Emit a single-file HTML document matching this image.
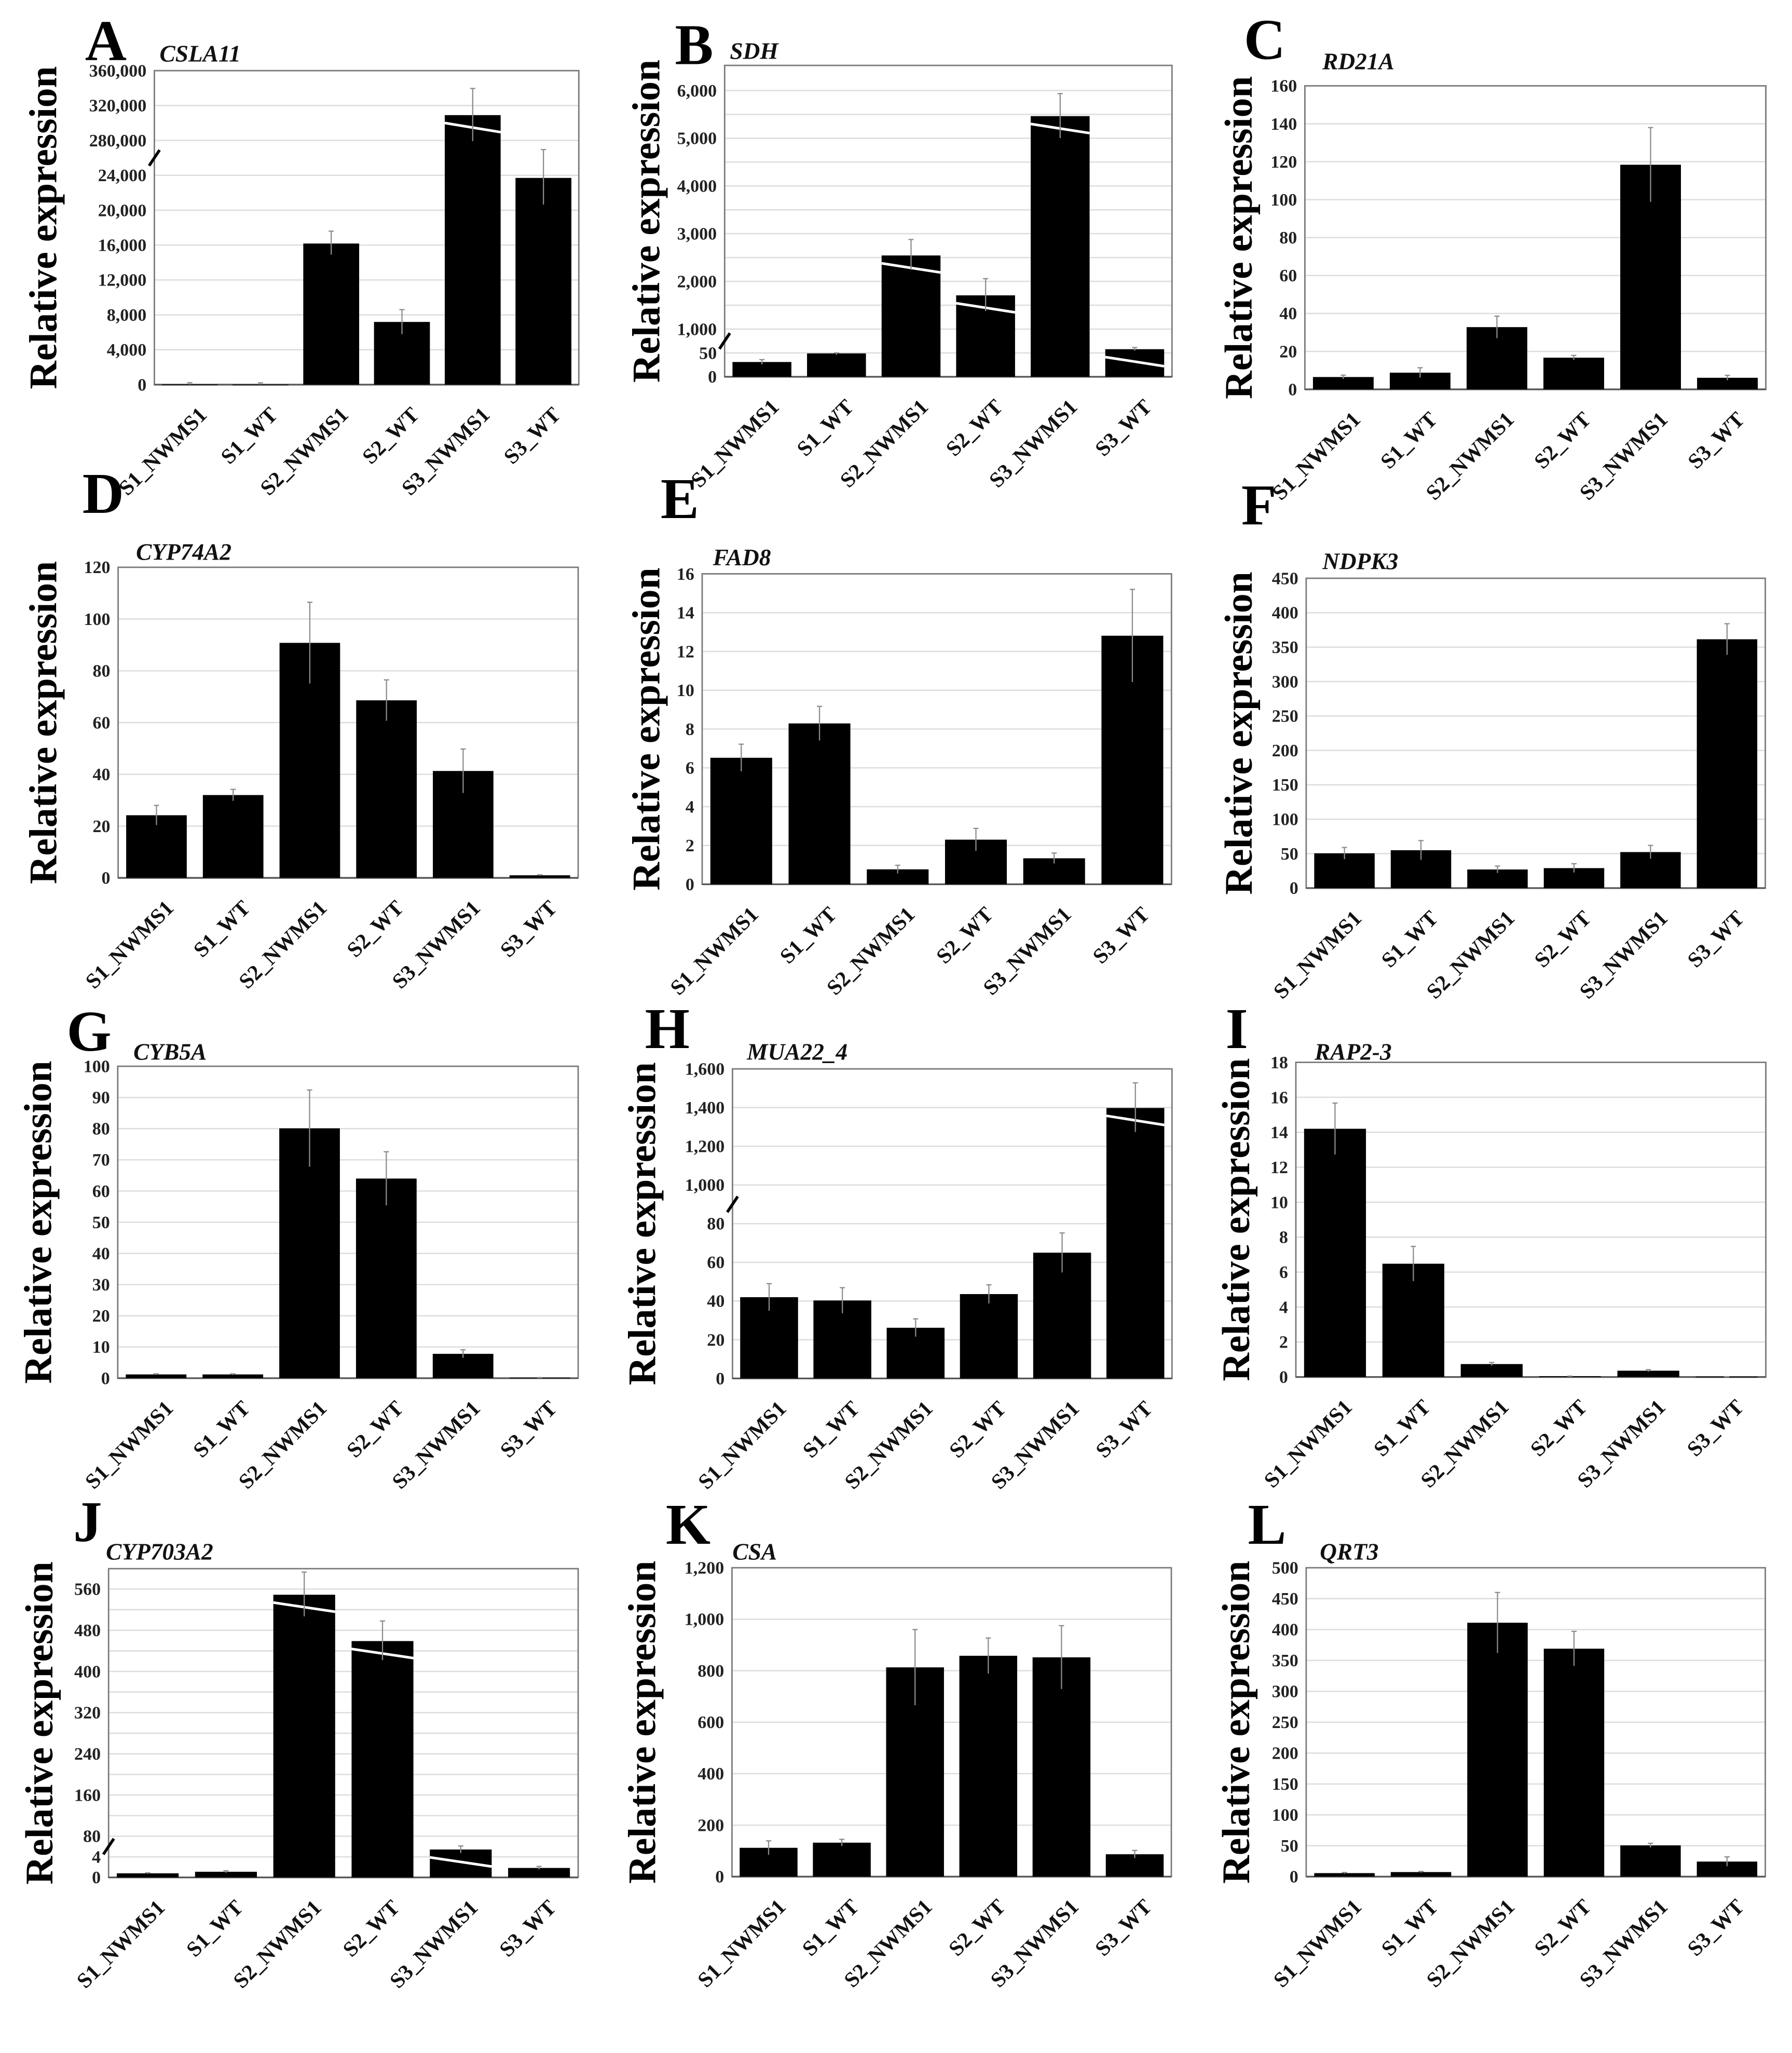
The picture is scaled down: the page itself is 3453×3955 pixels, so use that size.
<!DOCTYPE html>
<html>
<head>
<meta charset="utf-8">
<style>
  html, body { margin: 0; padding: 0; background: #ffffff; }
  svg { display: block; }
  text { font-family: "Liberation Serif", "Times New Roman", serif; }
</style>
</head>
<body>
<svg id="fig" xmlns="http://www.w3.org/2000/svg" width="3453" height="3955" viewBox="0 0 1370 1569.2">
  <rect x="0" y="0" width="1370" height="1569.2" fill="#ffffff"></rect>
</svg>
<script>
const categories = ["S1_NWMS1", "S1_WT", "S2_NWMS1", "S2_WT", "S3_NWMS1", "S3_WT"];

// Panel A - CSLA11
const aValues = [20, 10, 16180, 7190, 309000, 23700];
const aErrPlus = [200, 200, 1420, 1410, 30600, 189300];
const aErrMinus = [20, 10, 1280, 1400, 34000, 3050];
const aTicks = [0, 4000, 8000, 12000, 16000, 20000, 24000, 280000, 320000, 360000];
const aTickLabels = ["0", "4,000", "8,000", "12,000", "16,000", "20,000", "24,000", "280,000", "320,000", "360,000"];

// Panel B - SDH
const bValues = [31, 49, 2543, 1707, 5464, 199];
const bErrPlus = [5, 3, 335, 349, 472, 67];
const bErrMinus = [5, 3, 300, 330, 460, 60];
const bTicks = [0, 50, 1000, 1500, 2000, 2500, 3000, 3500, 4000, 4500, 5000, 5500, 6000];
const bTickLabels = ["0", "50", "1,000", "", "2,000", "", "3,000", "", "4,000", "", "5,000", "", "6,000"];

// Panel C - RD21A
const cValues = [6.5, 8.8, 32.8, 16.7, 118.4, 6.1];
const cErrPlus = [1, 2.6, 5.8, 1.2, 19.6, 1.3];
const cErrMinus = [1, 2.6, 5.8, 1.2, 19.6, 1.3];
const cTicks = [0, 20, 40, 60, 80, 100, 120, 140, 160];
const cTickLabels = ["0", "20", "40", "60", "80", "100", "120", "140", "160"];

// Panel D - CYP74A2
const dValues = [24.2, 32, 90.8, 68.6, 41.3, 1.0];
const dErrPlus = [3.8, 2.2, 15.7, 7.9, 8.5, 0.2];
const dErrMinus = [3.8, 2.2, 15.7, 7.9, 8.5, 0.2];
const dTicks = [0, 20, 40, 60, 80, 100, 120];
const dTickLabels = ["0", "20", "40", "60", "80", "100", "120"];

// Panel E - FAD8
const eValues = [6.52, 8.29, 0.77, 2.30, 1.34, 12.81];
const eErrPlus = [0.7, 0.88, 0.21, 0.58, 0.27, 2.39];
const eErrMinus = [0.7, 0.88, 0.21, 0.58, 0.27, 2.39];
const eTicks = [0, 2, 4, 6, 8, 10, 12, 14, 16];
const eTickLabels = ["0", "2", "4", "6", "8", "10", "12", "14", "16"];

// Panel F - NDPK3
const fValues = [50.5, 55, 27, 29, 52.3, 361.4];
const fErrPlus = [8.5, 14, 5, 6.4, 9.7, 22.6];
const fErrMinus = [8.5, 14, 5, 6.4, 9.7, 22.6];
const fTicks = [0, 50, 100, 150, 200, 250, 300, 350, 400, 450];
const fTickLabels = ["0", "50", "100", "150", "200", "250", "300", "350", "400", "450"];

// Panel G - CYB5A
const gValues = [1.2, 1.2, 80.1, 64, 7.8, 0.2];
const gErrPlus = [0.2, 0.2, 12.3, 8.6, 1.3, 0];
const gErrMinus = [0.2, 0.2, 12.3, 8.6, 1.3, 0];
const gTicks = [0, 10, 20, 30, 40, 50, 60, 70, 80, 90, 100];
const gTickLabels = ["0", "10", "20", "30", "40", "50", "60", "70", "80", "90", "100"];

// Panel H - MUA22_4
const hValues = [42, 40.3, 26.2, 43.6, 65, 1398];
const hErrPlus = [7, 6.6, 4.6, 4.8, 10.2, 130];
const hErrMinus = [7, 6.6, 4.6, 4.8, 10.2, 124];
const hTicks = [0, 20, 40, 60, 80, 1000, 1200, 1400, 1600];
const hTickLabels = ["0", "20", "40", "60", "80", "1,000", "1,200", "1,400", "1,600"];

// Panel I - RAP2-3
const iValues = [14.2, 6.48, 0.74, 0.05, 0.36, 0.02];
const iErrPlus = [1.47, 0.99, 0.09, 0, 0.06, 0];
const iErrMinus = [1.47, 0.99, 0.09, 0, 0.06, 0];
const iTicks = [0, 2, 4, 6, 8, 10, 12, 14, 16, 18];
const iTickLabels = ["0", "2", "4", "6", "8", "10", "12", "14", "16", "18"];

// Panel J - CYP703A2
const jValues = [0.8, 1.1, 549, 459, 31, 1.84];
const jErrPlus = [0.1, 0.2, 44, 39, 13, 0.3];
const jErrMinus = [0.1, 0.2, 42, 37, 13, 0.3];
const jTicks = [0, 4, 80, 120, 160, 200, 240, 280, 320, 360, 400, 440, 480, 520, 560];
const jTickLabels = ["0", "4", "80", "", "160", "", "240", "", "320", "", "400", "", "480", "", "560"];

// Panel K - CSA
const kValues = [112, 132, 813, 858, 852, 87];
const kErrPlus = [27, 13, 147, 69, 123, 15];
const kErrMinus = [27, 13, 147, 69, 123, 15];
const kTicks = [0, 200, 400, 600, 800, 1000, 1200];
const kTickLabels = ["0", "200", "400", "600", "800", "1,000", "1,200"];

// Panel L - QRT3
const lValues = [5.7, 7.4, 411, 369, 50.6, 24.4];
const lErrPlus = [1, 1, 49, 28, 3.4, 7.6];
const lErrMinus = [1, 1, 49, 28, 3.4, 7.6];
const lTicks = [0, 50, 100, 150, 200, 250, 300, 350, 400, 450, 500];
const lTickLabels = ["0", "50", "100", "150", "200", "250", "300", "350", "400", "450", "500"];

const panels = [
  {letter:"A", gene:"CSLA11", L:118, R:442.5, T:54, B:294, topTick:54, titleX:32, lx:65, ly:46, gx:122, gy:47, brk:6,
   values:aValues, errPlus:aErrPlus, errMinus:aErrMinus, ticks:aTicks, labels:aTickLabels},
  {letter:"B", gene:"SDH", L:554, R:896, T:50, B:288, topTick:69.2, titleX:493, lx:516, ly:49, gx:558, gy:45, brk:1,
   values:bValues, errPlus:bErrPlus, errMinus:bErrMinus, ticks:bTicks, labels:bTickLabels},
  {letter:"C", gene:"RD21A", L:997.6, R:1350, T:65.6, B:297.6, topTick:65.6, titleX:946, lx:951, ly:45, gx:1011, gy:53, brk:-1,
   values:cValues, errPlus:cErrPlus, errMinus:cErrMinus, ticks:cTicks, labels:cTickLabels},
  {letter:"D", gene:"CYP74A2", L:90.3, R:442, T:433.6, B:671, topTick:433.6, titleX:32, lx:63, ly:392, gx:104, gy:428, brk:-1,
   values:dValues, errPlus:dErrPlus, errMinus:dErrMinus, ticks:dTicks, labels:dTickLabels},
  {letter:"E", gene:"FAD8", L:536.8, R:895.6, T:438.6, B:675.9, topTick:438.6, titleX:493, lx:505, ly:396, gx:545, gy:432, brk:-1,
   values:eValues, errPlus:eErrPlus, errMinus:eErrMinus, ticks:eTicks, labels:eTickLabels},
  {letter:"F", gene:"NDPK3", L:998.6, R:1349.6, T:442, B:678.8, topTick:442, titleX:946, lx:949, ly:401, gx:1011, gy:435, brk:-1,
   values:fValues, errPlus:fErrPlus, errMinus:fErrMinus, ticks:fTicks, labels:fTickLabels},
  {letter:"G", gene:"CYB5A", L:90, R:442, T:815, B:1053.4, topTick:815, titleX:28, lx:51, ly:803, gx:102, gy:810, brk:-1,
   values:gValues, errPlus:gErrPlus, errMinus:gErrMinus, ticks:gTicks, labels:gTickLabels},
  {letter:"H", gene:"MUA22_4", L:560, R:896, T:817, B:1053.6, topTick:817, titleX:490, lx:493, ly:801, gx:571, gy:810, brk:4,
   values:hValues, errPlus:hErrPlus, errMinus:hErrMinus, ticks:hTicks, labels:hTickLabels},
  {letter:"I", gene:"RAP2-3", L:990.7, R:1350, T:812, B:1052.5, topTick:812, titleX:944, lx:937, ly:801, gx:1005, gy:810, brk:-1,
   values:iValues, errPlus:iErrPlus, errMinus:iErrMinus, ticks:iTicks, labels:iTickLabels},
  {letter:"J", gene:"CYP703A2", L:83, R:442, T:1199, B:1435, topTick:1214.6, titleX:29, lx:56, ly:1178, gx:81, gy:1192, brk:1,
   values:jValues, errPlus:jErrPlus, errMinus:jErrMinus, ticks:jTicks, labels:jTickLabels},
  {letter:"K", gene:"CSA", L:559.6, R:895.5, T:1198.3, B:1434.4, topTick:1198.3, titleX:490, lx:509, ly:1180, gx:560, gy:1192, brk:-1,
   values:kValues, errPlus:kErrPlus, errMinus:kErrMinus, ticks:kTicks, labels:kTickLabels},
  {letter:"L", gene:"QRT3", L:998.6, R:1349.6, T:1198.3, B:1434.4, topTick:1198.3, titleX:944, lx:954, ly:1180, gx:1009, gy:1192, brk:-1,
   values:lValues, errPlus:lErrPlus, errMinus:lErrMinus, ticks:lTicks, labels:lTickLabels}
];

const NS = "http://www.w3.org/2000/svg";
const svg = document.getElementById("fig");

function mk(tag, attrs, parent) {
  const e = document.createElementNS(NS, tag);
  for (const k in attrs) e.setAttribute(k, attrs[k]);
  (parent || svg).appendChild(e);
  return e;
}

function yScale(p, v) {
  const t = p.ticks;
  const n = t.length;
  const step = (p.B - p.topTick) / (n - 1);
  let idx;
  if (v <= t[0]) idx = 0;
  else if (v >= t[n - 1]) idx = (n - 1) + (v - t[n - 1]) / (t[n - 1] - t[n - 2]);
  else {
    let i = 0;
    while (i < n - 2 && v > t[i + 1]) i++;
    idx = i + (v - t[i]) / (t[i + 1] - t[i]);
  }
  return p.B - idx * step;
}
function xBand(p, i) {
  const slot = (p.R - p.L) / categories.length;
  return { center: p.L + slot * (i + 0.5), width: slot * 0.79 };
}

panels.forEach(function (p) {
  const g = mk("g", {});
  
  

  p.ticks.forEach(function (tv, ti) {
    if (ti === 0) return;
    const y = yScale(p, tv);
    const gl = mk("line", {x1: p.L, x2: p.R, y1: y, y2: y, stroke: "#dddddd", "stroke-width": 1}, g);
    
    
  });

  const frame = mk("rect", {x: p.L, y: p.T, width: p.R - p.L, height: p.B - p.T, fill: "none", stroke: "#7a7a7a", "stroke-width": 1.1}, g);
  
  
  const xaxis = mk("line", {x1: p.L, x2: p.R, y1: p.B, y2: p.B, stroke: "#555555", "stroke-width": 1.3}, g);
  
  

  p.ticks.forEach(function (tv, ti) {
    const lab = p.labels[ti];
    if (!lab) return;
    const y = yScale(p, tv);
    const tt = mk("text", {x: p.L - 6, y: y + 4.5, "text-anchor": "end", "font-size": 13.5, "font-weight": "bold", fill: "#222"}, g);
    tt.textContent = lab;
    
    
  });

  if (p.brk >= 0) {
    const yb = (yScale(p, p.ticks[p.brk]) + yScale(p, p.ticks[p.brk + 1])) / 2;
    const bm = mk("line", {x1: p.L - 4, y1: yb + 6, x2: p.L + 4, y2: yb - 6, stroke: "#000", "stroke-width": 2.2}, g);
    
    
  }

  p.values.forEach(function (v, i) {
    const b = xBand(p, i);
    const yTop = yScale(p, v);
    const bar = mk("rect", {x: b.center - b.width / 2, y: yTop, width: b.width, height: Math.max(p.B - yTop, 0.6), fill: "#000"}, g);
    
    

    if (p.brk >= 0 && v > p.ticks[p.brk]) {
      const sl = mk("line", {x1: b.center - b.width / 2, y1: yTop + 6, x2: b.center + b.width / 2, y2: yTop + 13, stroke: "#ffffff", "stroke-width": 2}, g);
      
      
    }

    const eTop = yScale(p, v + p.errPlus[i]);
    const eBot = yScale(p, Math.max(v - p.errMinus[i], 0));
    const ev = mk("line", {x1: b.center, x2: b.center, y1: eTop, y2: eBot, stroke: "#8c8c8c", "stroke-width": 0.9}, g);
    
    
    const ec = mk("line", {x1: b.center - 2, x2: b.center + 2, y1: eTop, y2: eTop, stroke: "#8c8c8c", "stroke-width": 0.9}, g);
    
    

    const xl = mk("text", {x: 0, y: 0, "text-anchor": "end", "font-size": 16.5, "font-weight": "bold", fill: "#111",
      transform: "translate(" + (b.center + 14) + "," + (p.B + 24) + ") rotate(-45)"}, g);
    xl.textContent = categories[i];
    
    
  });

  const yc = (p.T + p.B) / 2;
  const yt = mk("text", {x: 0, y: 0, "text-anchor": "middle", "font-size": 30, "font-weight": "bold", fill: "#000",
    transform: "translate(" + (p.titleX + 11) + "," + yc + ") rotate(-90)"}, g);
  yt.textContent = "Relative expression";
  
  

  const pl = mk("text", {x: p.lx, y: p.ly, "font-size": 44, "font-weight": "bold", fill: "#000"}, g);
  pl.textContent = p.letter;
  
  

  const gn = mk("text", {x: p.gx, y: p.gy, "font-size": 18, "font-weight": "bold", "font-style": "italic", fill: "#111"}, g);
  gn.textContent = p.gene;
  
  
});
</script>
</body>
</html>
